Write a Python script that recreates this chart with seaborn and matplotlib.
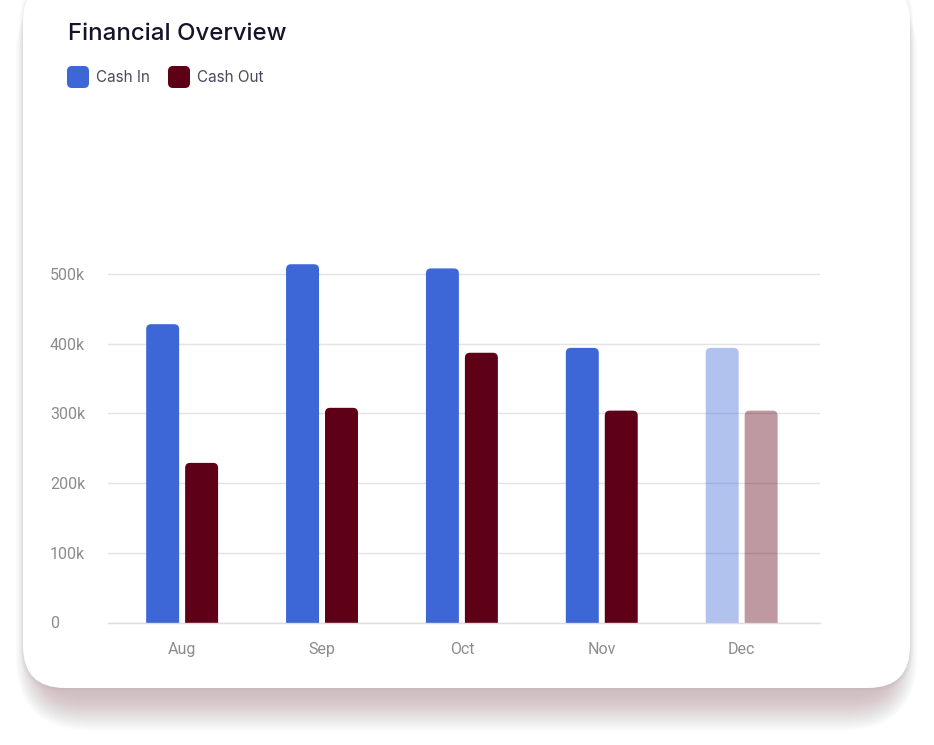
import matplotlib
matplotlib.use("Agg")
import matplotlib.pyplot as plt
from matplotlib.patches import FancyBboxPatch
import seaborn as sns
import pandas as pd

months = ["Aug", "Sep", "Oct", "Nov", "Dec"]
cash_in = [428000, 514000, 508000, 394000, 394000]
cash_out = [229000, 308000, 387000, 304000, 304000]
series_names = ["Cash In", "Cash Out"]
series_colors = ["#3D67D7", "#5E0016"]
y_ticks = [0, 100000, 200000, 300000, 400000, 500000]
y_tick_labels = ["0", "100k", "200k", "300k", "400k", "500k"]
faded_month = "Dec"

df = pd.DataFrame({
    "month": months * 2,
    "value": cash_in + cash_out,
    "series": [series_names[0]] * len(months) + [series_names[1]] * len(months),
})

sns.set_theme(style="white")
plt.rcParams["font.family"] = ["Roboto", "DejaVu Sans"]

W, H = 934, 745
fig = plt.figure(figsize=(W / 100, H / 100), dpi=100)
fig.patch.set_facecolor("white")

# background card layer in pixel coordinates
bg = fig.add_axes([0, 0, 1, 1], zorder=0)
bg.set_xlim(0, W)
bg.set_ylim(H, 0)
bg.axis("off")
# shadow
for k in range(36):
    bg.add_patch(FancyBboxPatch((40 - k * 0.7, -20), 853 + k * 1.4, 716 + k * 1.0,
                                boxstyle="round,pad=0,rounding_size=%f" % (40 + k),
                                facecolor="#6b4a52", edgecolor="none", alpha=0.0085))
for k in range(8):
    bg.add_patch(FancyBboxPatch((23 - k * 0.5, -20 - k * 0.5), 887 + k, 708 + k,
                                boxstyle="round,pad=0,rounding_size=%f" % (40 + k * 0.5),
                                facecolor="#555566", edgecolor="none", alpha=0.008))
bg.add_patch(FancyBboxPatch((23, -20), 887, 708,
                            boxstyle="round,pad=0,rounding_size=42",
                            facecolor="white", edgecolor="none"))

# main chart axes
x0, x1 = 108, 820
y_zero_px, px_per_k = 622.5, 0.697
y_top_px = 120
ymax = (y_zero_px - y_top_px) / px_per_k * 1000
ax = fig.add_axes([x0 / W, (H - y_zero_px) / H, (x1 - x0) / W, (y_zero_px - y_top_px) / H], zorder=1)
ax.patch.set_alpha(0)

sns.barplot(data=df, x="month", y="value", hue="series", order=months,
            hue_order=series_names, palette=series_colors, width=0.557, gap=0.154,
            saturation=1, ax=ax, legend=False, edgecolor="none", linewidth=0)

xlim = (-0.53, 4.56)
ax.set_xlim(*xlim)
ax.set_ylim(0, ymax)

px_per_xunit = (x1 - x0) / (xlim[1] - xlim[0])
px_per_yunit = px_per_k / 1000.0
r_px = 5.0
r_x = r_px / px_per_xunit
aspect = px_per_xunit / px_per_yunit
r_y = r_x * aspect

bars = list(ax.patches)
for p in bars:
    x, y, w, h = p.get_x(), p.get_y(), p.get_width(), p.get_height()
    fc = p.get_facecolor()
    idx = int(round(x + w / 2))
    alpha = 0.4 if months[idx] == faded_month else 1.0
    p.remove()
    ax.add_patch(FancyBboxPatch((x, y - r_y), w, h + r_y,
                                boxstyle="round,pad=0,rounding_size=%f" % r_x,
                                mutation_aspect=aspect, facecolor=fc[:3], alpha=alpha,
                                edgecolor="none", zorder=2))

ax.set_yticks(y_ticks)
ax.set_yticklabels(y_tick_labels)
ax.grid(axis="y", color="#e3e3e6", linewidth=1)
ax.grid(axis="x", visible=False)
ax.set_axisbelow(True)
for s in ["top", "right", "left"]:
    ax.spines[s].set_visible(False)
ax.spines["bottom"].set_color("#dedee2")
ax.spines["bottom"].set_linewidth(1)
ax.set_xlabel("")
ax.set_ylabel("")
ax.tick_params(axis="y", length=0, pad=41.8, labelsize=11.5, labelcolor="#8c8c8c")
ax.tick_params(axis="x", length=0, pad=14, labelsize=11.5, labelcolor="#8c8c8c")
for t in ax.get_yticklabels():
    t.set_horizontalalignment("left")

# title
fig.text(68 / W, 1 - 33.5 / H, "Financial Overview", family=["Inter", "DejaVu Sans"],
         fontsize=17.3, fontweight="medium", color="#14142b", va="center", ha="left")

# legend
leg_x = [67, 168]
for i, name in enumerate(series_names):
    bg.add_patch(FancyBboxPatch((leg_x[i], 66), 22, 22,
                                boxstyle="round,pad=0,rounding_size=5",
                                facecolor=series_colors[i], edgecolor="none", zorder=3))
    bg.text(leg_x[i] + 29, 77.5, name, family=["Inter", "DejaVu Sans"], fontsize=11,
            color="#4a4a5c", va="center", ha="left", zorder=3)

fig.savefig("out.png", dpi=100, facecolor="white")
